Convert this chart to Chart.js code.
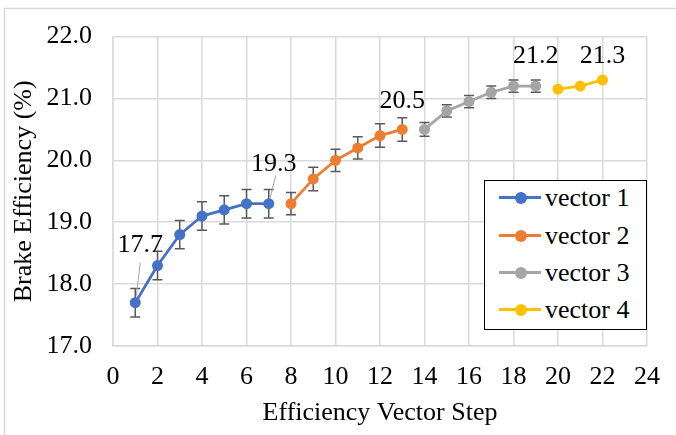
<!DOCTYPE html>
<html>
<head>
<meta charset="utf-8">
<script src="https://cdn.jsdelivr.net/npm/chart.js@4/dist/chart.umd.min.js"></script>
<style>
html,body{margin:0;padding:0;background:#fff;}
#wrap{position:relative;width:676px;height:435px;}
#c{position:absolute;left:0;top:0;}
#legend{position:absolute;left:484px;top:180px;width:163px;height:150px;border:1.5px solid #000;background:#fff;box-sizing:border-box;font-family:"Times New Roman","Liberation Serif",Times,"DejaVu Serif",serif;font-size:26px;color:#000;}
.item{position:absolute;left:14px;height:30px;line-height:30px;display:flex;align-items:center;white-space:nowrap;}
.sym{position:relative;width:42px;height:3px;margin-right:4px;}
.sym i{position:absolute;left:15.5px;top:-4.5px;width:12px;height:12px;border-radius:50%;}
</style>
</head>
<body>
<div id="wrap">
<canvas id="c" width="676" height="435"></canvas>
<div id="legend"></div>
</div>
<script>
// ---- data ----
const vectorNames = ["vector 1", "vector 2", "vector 3", "vector 4"];
const vectorColors = ["#4472C4", "#ED7D31", "#A5A5A5", "#FFC000"];

const steps1 = [1, 2, 3, 4, 5, 6, 7];
const vector1 = [17.7, 18.3, 18.8, 19.1, 19.2, 19.3, 19.3];
const error1 = [0.23, 0.23, 0.23, 0.23, 0.23, 0.23, 0.23];

const steps2 = [8, 9, 10, 11, 12, 13];
const vector2 = [19.3, 19.7, 20.0, 20.2, 20.4, 20.5];
const error2 = [0.18, 0.19, 0.18, 0.18, 0.19, 0.19];

const steps3 = [14, 15, 16, 17, 18, 19];
const vector3 = [20.5, 20.8, 20.95, 21.1, 21.2, 21.2];
const error3 = [0.11, 0.10, 0.10, 0.10, 0.10, 0.10];

const steps4 = [20, 21, 22];
const vector4 = [21.15, 21.2, 21.3];
const error4 = [0, 0, 0];

const xTickValues = [0, 2, 4, 6, 8, 10, 12, 14, 16, 18, 20, 22, 24];
const yTickValues = [17.0, 17.5, 18.0, 18.5, 19.0, 19.5, 20.0, 20.5, 21.0, 21.5, 22.0];

// data labels: which series / point
const labelSeries = [0, 0, 1, 2, 3];
const labelPoint = [0, 6, 5, 5, 2];

// ---- build ----
const allSteps = [steps1, steps2, steps3, steps4];
const allValues = [vector1, vector2, vector3, vector4];
const allErrors = [error1, error2, error3, error4];

const FONT = '"Times New Roman", "Liberation Serif", Times, "DejaVu Serif", serif';

const datasets = allValues.map((vals, s) => ({
  label: vectorNames[s],
  data: vals.map((v, i) => ({x: allSteps[s][i], y: v})),
  borderColor: vectorColors[s],
  backgroundColor: vectorColors[s],
  pointBackgroundColor: vectorColors[s],
  pointBorderColor: vectorColors[s],
  pointBorderWidth: 0,
  pointRadius: 5.5,
  borderWidth: 2.75,
  tension: 0,
  showLine: true
}));

const frame = {
  id: 'frame',
  beforeDraw(chart) {
    const ctx = chart.ctx;
    ctx.save();
    ctx.fillStyle = '#fff';
    ctx.fillRect(0, 0, chart.width, chart.height);
    ctx.strokeStyle = '#d9d9d9';
    ctx.lineWidth = 1.5;
    ctx.beginPath();
    ctx.moveTo(4.5, chart.height);
    ctx.lineTo(4.5, 8.5);
    ctx.lineTo(chart.width, 8.5);
    ctx.stroke();
    ctx.restore();
  }
};

const errorBars = {
  id: 'errorBars',
  beforeDatasetsDraw(chart) {
    const ctx = chart.ctx, xs = chart.scales.x, ys = chart.scales.y;
    ctx.save();
    ctx.strokeStyle = '#595959';
    ctx.lineWidth = 1.5;
    allErrors.forEach((errs, s) => {
      errs.forEach((e, i) => {
        if (!e) return;
        const px = xs.getPixelForValue(allSteps[s][i]);
        const top = ys.getPixelForValue(allValues[s][i] + e);
        const bot = ys.getPixelForValue(allValues[s][i] - e);
        ctx.beginPath();
        ctx.moveTo(px, top); ctx.lineTo(px, bot);
        ctx.moveTo(px - 5, top); ctx.lineTo(px + 5, top);
        ctx.moveTo(px - 5, bot); ctx.lineTo(px + 5, bot);
        ctx.stroke();
      });
    });
    ctx.restore();
  }
};

// label placement offsets (style) relative to point
const labelOffsets = [
  {dx: 5, dy: -58, lead: [5, -40, 1, -6]},
  {dx: 5, dy: -40, lead: [7, -28, 1.5, -6]},
  {dx: 0, dy: -28.5},
  {dx: 0, dy: -30},
  {dx: 0, dy: -24}
];

const dataLabels = {
  id: 'dataLabels',
  afterDatasetsDraw(chart) {
    const ctx = chart.ctx, xs = chart.scales.x, ys = chart.scales.y;
    ctx.save();
    labelSeries.forEach((s, k) => {
      const i = labelPoint[k];
      const v = allValues[s][i];
      const px = xs.getPixelForValue(allSteps[s][i]);
      const py = ys.getPixelForValue(v);
      const o = labelOffsets[k];
      if (o.lead) {
        ctx.strokeStyle = '#a6a6a6';
        ctx.lineWidth = 1;
        ctx.beginPath();
        ctx.moveTo(px + o.lead[0], py + o.lead[1]);
        ctx.lineTo(px + o.lead[2], py + o.lead[3]);
        ctx.stroke();
      }
      ctx.fillStyle = '#000';
      ctx.font = '26px ' + FONT;
      ctx.textAlign = 'center';
      ctx.textBaseline = 'middle';
      ctx.fillText(v.toFixed(1), px + o.dx, py + o.dy);
    });
    ctx.restore();
  }
};

new Chart(document.getElementById('c'), {
  type: 'scatter',
  data: {datasets},
  options: {
    responsive: false,
    animation: false,
    devicePixelRatio: 1,
    layout: {padding: {top: 26, right: 19, left: 0, bottom: 0}},
    plugins: {legend: {display: false}, tooltip: {enabled: false}},
    scales: {
      x: {
        type: 'linear', min: 0, max: 24,
        afterBuildTicks: s => { s.ticks = xTickValues.map(v => ({value: v})); },
        afterFit: s => { s.height = 89; },
        grid: {color: '#d9d9d9', lineWidth: 1.5, drawTicks: false},
        border: {display: true, color: '#d9d9d9', width: 1.5},
        ticks: {padding: 16, color: '#000', font: {family: FONT, size: 26}, maxRotation: 0, autoSkip: false},
        title: {display: true, text: 'Efficiency Vector Step', color: '#000', font: {family: FONT, size: 26}, padding: {top: 0, bottom: 6.5}}
      },
      y: {
        type: 'linear', min: 17, max: 22,
        afterBuildTicks: s => { s.ticks = yTickValues.map(v => ({value: v})); },
        afterFit: s => { s.width = 113; },
        grid: {color: '#d9d9d9', lineWidth: 1.5, drawTicks: false},
        border: {display: true, color: '#d9d9d9', width: 1.5},
        ticks: {padding: 21, color: '#000', font: {family: FONT, size: 26}, callback: v => Number(v).toFixed(1)},
        title: {display: true, text: 'Brake Efficiency (%)', color: '#000', font: {family: FONT, size: 26}, padding: {top: 8.6, bottom: 0}}
      }
    }
  },
  plugins: [frame, errorBars, dataLabels]
});

// HTML legend
const legendRows = [18, 56, 93, 130];
const lg = document.getElementById('legend');
vectorNames.forEach((name, s) => {
  const row = document.createElement('div');
  row.className = 'item';
  row.style.top = (legendRows[s] - 15 - 1.5) + 'px';
  const sym = document.createElement('span');
  sym.className = 'sym';
  sym.style.background = vectorColors[s];
  const dot = document.createElement('i');
  dot.style.background = vectorColors[s];
  sym.appendChild(dot);
  row.appendChild(sym);
  row.appendChild(document.createTextNode(name));
  lg.appendChild(row);
});
</script>
</body>
</html>
